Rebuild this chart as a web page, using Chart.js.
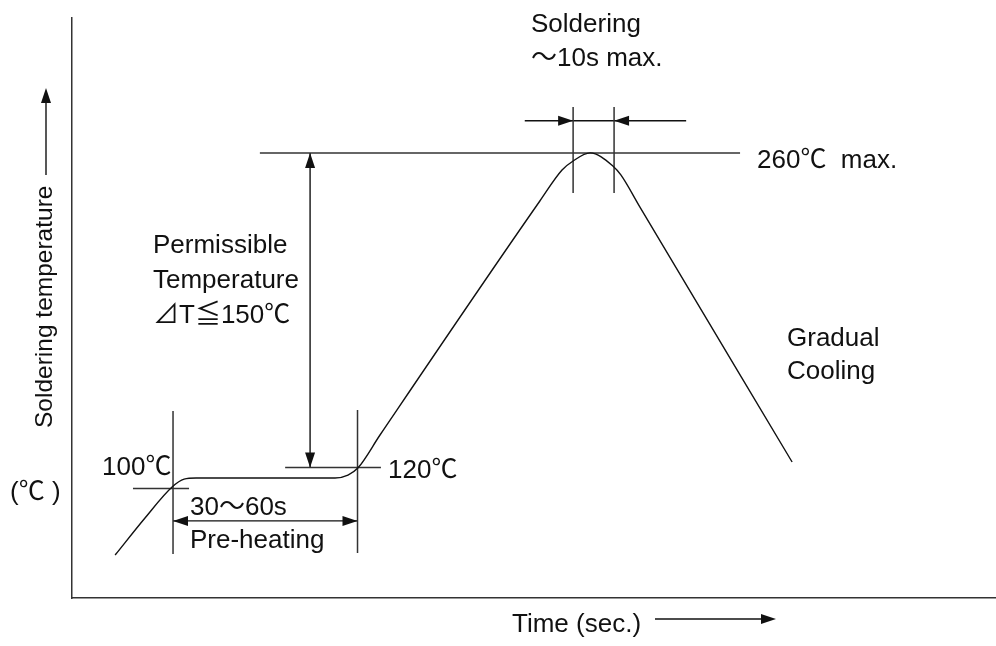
<!DOCTYPE html>
<html>
<head>
<meta charset="utf-8">
<script src="https://cdn.jsdelivr.net/npm/chart.js"></script>
<style>
html, body { margin: 0; padding: 0; background: #fff; }
</style>
</head>
<body>
<canvas id="myChart" width="996" height="646"></canvas>
<script>
// reflow profile (time in s, temp in degC, schematic)
const timeVals = [14, 23.7, 32.5, 36.4, 40.3, 85.4, 89.6, 92.8, 100, 151.9, 159.1, 162.7, 168.2, 175.6, 178.2, 184.4, 233.8]
const tempVals = [81.1, 97.6, 111.4, 114.9, 115.4, 115.4, 116.7, 119.8, 134.5, 238.6, 252.4, 256.4, 260, 254.2, 250.2, 235.9, 122.5]

// horizontal guide lines: level, from, to
const hLevels = [260, 120, 110.7]
const hFrom = [61, 69.2, 19.8]
const hTo = [216.9, 100.3, 38]

// vertical guide lines: time, top, bottom
const vAt = [32.8, 92.7, 162.7, 176]
const vTop = [145.2, 145.6, 280.4, 280.4]
const vBottom = [81.6, 82, 242.2, 242.2]

// dimension arrows
const deltaT = [120, 260]        // at t = 77.3
const preheat = [32.8, 92.7]     // at temp 96.3
const solderSpan = [147, 199.4]  // at temp 274.3

const labels = {
  yTitle: 'Soldering temperature',
  yUnit: '(\u2103 )',
  xTitle: 'Time (sec.)',
  soldering: 'Soldering',
  solderTime: '\uFF5E10s max.',
  maxTemp: '260\u2103  max.',
  permissible: ['Permissible', 'Temperature', '\u22BFT\u2266150\u2103'],
  cooling: ['Gradual', 'Cooling'],
  preTemp: '120\u2103',
  startTemp: '100\u2103',
  preTime: '30\uFF5E60s',
  preName: 'Pre-heating'
}

const ink = '#111'
const font = '26px "Liberation Sans", Arial, "Noto Sans CJK JP"'
const yFont = '24.5px "Liberation Sans", Arial, "Noto Sans CJK JP"'

const datasets = []
datasets.push({
  data: timeVals.map((t, i) => ({ x: t, y: tempVals[i] })),
  borderColor: ink, borderWidth: 1.4, cubicInterpolationMode: 'monotone', pointRadius: 0
})
hLevels.forEach((lv, i) => {
  datasets.push({ data: [{ x: hFrom[i], y: lv }, { x: hTo[i], y: lv }], borderColor: '#333', borderWidth: 1.5, pointRadius: 0 })
})
vAt.forEach((t, i) => {
  datasets.push({ data: [{ x: t, y: vTop[i] }, { x: t, y: vBottom[i] }], borderColor: '#333', borderWidth: 1.5, pointRadius: 0 })
})
datasets.push({ data: [{ x: 77.3, y: deltaT[0] }, { x: 77.3, y: deltaT[1] }], borderColor: ink, borderWidth: 1.4, pointRadius: 0 })
datasets.push({ data: [{ x: preheat[0], y: 96.3 }, { x: preheat[1], y: 96.3 }], borderColor: ink, borderWidth: 1.4, pointRadius: 0 })
datasets.push({ data: [{ x: solderSpan[0], y: 274.3 }, { x: solderSpan[1], y: 274.3 }], borderColor: ink, borderWidth: 1.4, pointRadius: 0 })

function head(ctx, x, y, dx, dy) {
  const len = 15, w = 5
  ctx.beginPath()
  ctx.moveTo(x, y)
  ctx.lineTo(x - dx * len - dy * w, y - dy * len + dx * w)
  ctx.lineTo(x - dx * len + dy * w, y - dy * len - dx * w)
  ctx.closePath()
  ctx.fill()
}

const notes = {
  id: 'notes',
  afterDatasetsDraw(chart) {
    const ctx = chart.ctx
    const xs = chart.scales.x, ys = chart.scales.y
    const px = v => xs.getPixelForValue(v)
    const py = v => ys.getPixelForValue(v)
    ctx.save()
    ctx.fillStyle = ink
    ctx.strokeStyle = ink

    // arrowheads on dimension lines
    head(ctx, px(77.3), py(deltaT[1]), 0, -1)
    head(ctx, px(77.3), py(deltaT[0]), 0, 1)
    head(ctx, px(preheat[0]), py(96.3), -1, 0)
    head(ctx, px(preheat[1]), py(96.3), 1, 0)
    head(ctx, px(vAt[2]), py(274.3), 1, 0)
    head(ctx, px(vAt[3]), py(274.3), -1, 0)

    ctx.font = font
    ctx.textBaseline = 'alphabetic'
    ctx.fillText(labels.soldering, 531, 32)
    ctx.fillText(labels.solderTime, 531, 66)
    ctx.fillText(labels.maxTemp, 757, 168)
    labels.permissible.forEach((s, i) => ctx.fillText(s, 153, 253 + i * 35))
    labels.cooling.forEach((s, i) => ctx.fillText(s, 787, 346 + i * 33))
    ctx.fillText(labels.preTemp, 388, 478)
    ctx.fillText(labels.startTemp, 102, 475)
    ctx.fillText(labels.preTime, 190, 515)
    ctx.fillText(labels.preName, 190, 548)
    ctx.fillText(labels.yUnit, 10, 500)
    ctx.fillText(labels.xTitle, 512, 632)

    // y title, rotated
    ctx.save()
    ctx.font = yFont
    ctx.translate(52, 428)
    ctx.rotate(-Math.PI / 2)
    ctx.fillText(labels.yTitle, 0, 0)
    ctx.restore()

    // axis direction arrows
    ctx.lineWidth = 1.4
    ctx.beginPath()
    ctx.moveTo(46, 175)
    ctx.lineTo(46, 100)
    ctx.stroke()
    head(ctx, 46, 88, 0, -1)
    ctx.beginPath()
    ctx.moveTo(655, 619)
    ctx.lineTo(765, 619)
    ctx.stroke()
    head(ctx, 776, 619, 1, 0)
    ctx.restore()
  }
}

new Chart(document.getElementById('myChart'), {
  type: 'scatter',
  data: { datasets: datasets },
  options: {
    responsive: false,
    animation: false,
    showLine: true,
    layout: { padding: { left: 72, top: 18, right: 0, bottom: 48 } },
    plugins: { legend: { display: false }, tooltip: { enabled: false } },
    scales: {
      x: {
        type: 'linear', min: 0, max: 300,
        ticks: { display: false },
        grid: { display: false, drawTicks: false },
        border: { display: true, color: '#333', width: 1.5 }
      },
      y: {
        type: 'linear', min: 62, max: 320,
        ticks: { display: false },
        grid: { display: false, drawTicks: false },
        border: { display: true, color: '#333', width: 1.5 }
      }
    }
  },
  plugins: [notes]
})
</script>
</body>
</html>
